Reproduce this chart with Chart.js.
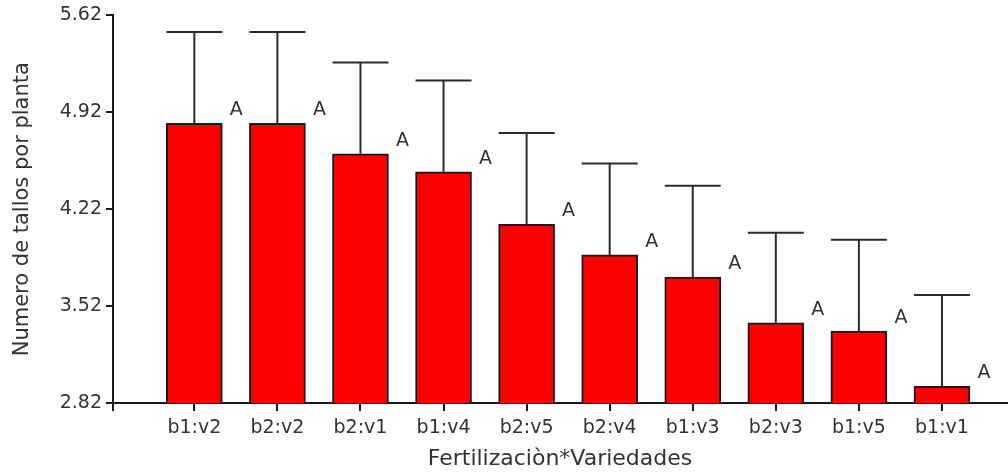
<!DOCTYPE html>
<html>
<head>
<meta charset="utf-8">
<title>Numero de tallos por planta</title>
<script src="https://cdn.jsdelivr.net/npm/chart.js@4.4.1/dist/chart.umd.min.js"></script>
<style>
  body { margin: 0; background: #fff; }
</style>
</head>
<body>
<canvas id="chart" width="1008" height="475"></canvas>
<script>
// values (means, upper error, Tukey letters)
const categories = ['b1:v2', 'b2:v2', 'b2:v1', 'b1:v4', 'b2:v5', 'b2:v4', 'b1:v3', 'b2:v3', 'b1:v5', 'b1:v1'];
const means = [4.84, 4.84, 4.62, 4.49, 4.11, 3.89, 3.73, 3.40, 3.34, 2.94];
const errors = [0.66, 0.66, 0.66, 0.66, 0.66, 0.66, 0.66, 0.65, 0.66, 0.66];
const letters = ['A', 'A', 'A', 'A', 'A', 'A', 'A', 'A', 'A', 'A'];
const yTicks = [2.82, 3.52, 4.22, 4.92, 5.62];

const ink = '#1a1a1a';
const textColor = '#333';

Chart.defaults.font.family = '"DejaVu Sans", sans-serif';
Chart.defaults.color = textColor;

// whiskers + letters, drawn on top of each bar
const errorBars = {
  id: 'errorBars',
  afterDatasetsDraw(chart) {
    const ctx = chart.ctx;
    const yScale = chart.scales.y;
    chart.getDatasetMeta(0).data.forEach((bar, i) => {
      const top = yScale.getPixelForValue(means[i] + errors[i]);
      const half = bar.width / 2;
      ctx.save();
      ctx.strokeStyle = '#2b2b2b';
      ctx.lineWidth = 2;
      ctx.beginPath();
      ctx.moveTo(bar.x, bar.y);
      ctx.lineTo(bar.x, top);
      ctx.moveTo(bar.x - half, top);
      ctx.lineTo(bar.x + half, top);
      ctx.stroke();
      ctx.fillStyle = textColor;
      ctx.font = '19px "DejaVu Sans"';
      ctx.textAlign = 'center';
      ctx.textBaseline = 'alphabetic';
      ctx.fillText(letters[i], bar.x + half + 14, bar.y - 8);
      ctx.restore();
    });
  }
};

// category tick marks under the x axis
const catTicks = {
  id: 'catTicks',
  afterDraw(chart) {
    const ctx = chart.ctx;
    const xScale = chart.scales.x;
    ctx.save();
    ctx.fillStyle = ink;
    categories.forEach((c, i) => {
      const px = Math.round(xScale.getPixelForValue(i));
      ctx.fillRect(px - 1, xScale.top, 2, 8);
    });
    ctx.restore();
  }
};

const ctx = document.getElementById('chart').getContext('2d');

const myChart = new Chart(ctx, {
  type: 'bar',
  data: {
    datasets: [{
      label: 'Numero de tallos por planta',
      data: categories.map((c, i) => ({ x: i, y: means[i] })),
      backgroundColor: '#ff0000',
      borderColor: ink,
      borderWidth: 2,
      borderSkipped: false,
      barThickness: 56
    }]
  },
  options: {
    responsive: false,
    animation: false,
    layout: { padding: { top: 15, right: 1, left: 0, bottom: 0 } },
    plugins: {
      legend: { display: false },
      tooltip: { enabled: false }
    },
    scales: {
      x: {
        type: 'linear',
        offset: false,
        min: -0.979,
        max: 9.783,
        afterBuildTicks: s => {
          s.ticks = [{ value: s.min }].concat(categories.map((c, i) => ({ value: i })));
        },
        ticks: {
          callback: v => categories[v] ?? '',
          font: { size: 19 },
          padding: 6,
          maxRotation: 0,
          autoSkip: false
        },
        grid: { offset: false, drawOnChartArea: false, tickLength: 8, color: ink, lineWidth: 2 },
        border: { color: ink, width: 2 },
        title: {
          display: true,
          text: 'Fertilizaciòn*Variedades',
          font: { size: 22 },
          padding: { top: 0, bottom: 3 }
        },
        afterFit: s => { s.height = 72; }
      },
      y: {
        min: 2.82,
        max: 5.62,
        afterBuildTicks: s => {
          s.ticks = yTicks.map(v => ({ value: v }));
        },
        ticks: {
          callback: v => v.toFixed(2),
          font: { size: 19 },
          padding: 4
        },
        grid: { drawOnChartArea: false, tickLength: 7, color: ink, lineWidth: 2 },
        border: { color: ink, width: 2 },
        title: {
          display: true,
          text: 'Numero de tallos por planta',
          font: { size: 21 },
          padding: { top: 10, bottom: 0 }
        },
        afterFit: s => { s.width = 113; }
      }
    }
  },
  plugins: [errorBars, catTicks]
});
</script>
</body>
</html>
